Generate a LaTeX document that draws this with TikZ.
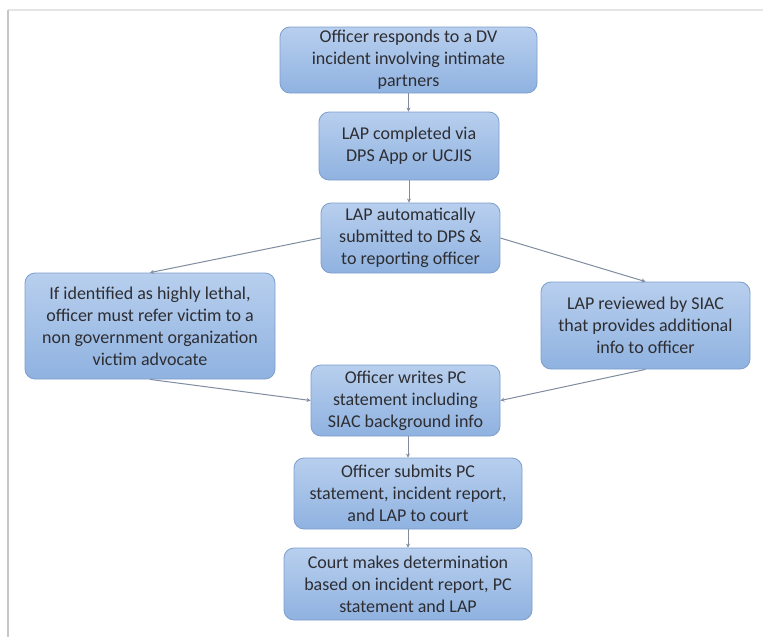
\documentclass[tikz,border=0pt]{standalone}
\usepackage{fontspec}
\setmainfont{Carlito}
\usetikzlibrary{arrows.meta}
\definecolor{boxtop}{RGB}{184,207,238}
\definecolor{boxbot}{RGB}{143,178,224}
\definecolor{boxline}{RGB}{125,158,204}
\definecolor{txt}{RGB}{45,45,50}
\definecolor{arr}{RGB}{128,140,160}
\tikzset{
  flowbox/.style={draw=boxline, line width=0.8pt, rounded corners=10pt,
    top color=boxtop, bottom color=boxbot, align=center, inner sep=0pt,
    text=txt, font=\fontsize{18}{22}\selectfont},
  flowarrow/.style={draw=arr, line width=1pt, -{Stealth[length=4pt,width=4pt]}}
}
\begin{document}
\begin{tikzpicture}[x=1pt,y=-1pt]
\useasboundingbox (0,0) rectangle (763,637);
\fill[white] (0,0) rectangle (763,637);
\draw[gray!20, line width=1.5pt] (8,10) -- (763,10);
\draw[gray!45, line width=2.5pt] (8,10) -- (8,637);

\node[flowbox, minimum width=257pt, minimum height=66pt] (resp) at (408.5,60)
  {Officer responds to a DV\\incident involving intimate\\partners};
\node[flowbox, minimum width=180pt, minimum height=68pt] (comp) at (409,146)
  {LAP completed via\\DPS App or UCJIS};
\node[flowbox, minimum width=179pt, minimum height=70pt] (auto) at (410.5,238)
  {LAP automatically\\submitted to DPS \&\\to reporting officer};
\node[flowbox, minimum width=250pt, minimum height=106pt] (lethal) at (150,326)
  {If identified as highly lethal,\\officer must refer victim to a\\non government organization\\victim advocate};
\node[flowbox, minimum width=209pt, minimum height=87pt] (siac) at (645.5,325.5)
  {LAP reviewed by SIAC\\that provides additional\\info to officer};
\node[flowbox, minimum width=189pt, minimum height=71pt] (writes) at (405.5,400.5)
  {Officer writes PC\\statement including\\SIAC background info};
\node[flowbox, minimum width=228pt, minimum height=71pt] (submits) at (408,493.5)
  {Officer submits PC\\statement, incident report,\\and LAP to court};
\node[flowbox, minimum width=248pt, minimum height=72pt] (court) at (408,584)
  {Court makes determination\\based on incident report, PC\\statement and LAP};

\draw[flowarrow] (resp.south) -- (resp.south |- comp.north);
\draw[flowarrow] (comp.south) -- (comp.south |- auto.north);
\draw[flowarrow] (auto.west) -- (lethal.north);
\draw[flowarrow] (auto.east) -- (siac.north);
\draw[flowarrow] (lethal.south) -- (writes.west);
\draw[flowarrow] (siac.south) -- (writes.east);
\draw[flowarrow] (writes.south -| submits.north) -- (submits.north);
\draw[flowarrow] (submits.south) -- (court.north);
\end{tikzpicture}
\end{document}
